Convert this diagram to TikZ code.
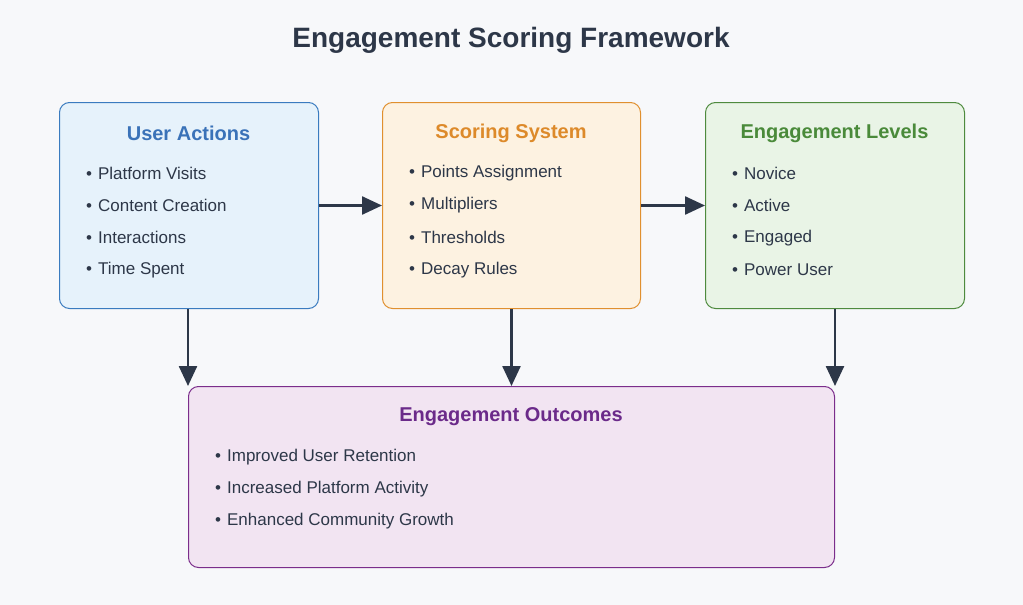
\documentclass[tikz,border=0pt]{standalone}
\usepackage{fontspec}
\setmainfont{Liberation Sans}
\usetikzlibrary{arrows.meta}
\definecolor{bg}{HTML}{F7F8FA}
\definecolor{ink}{HTML}{2D3748}
\definecolor{bfill}{HTML}{E6F2FB}\definecolor{bline}{HTML}{3A7BBF}\definecolor{btxt}{HTML}{3A72B8}
\definecolor{ofill}{HTML}{FDF2E1}\definecolor{oline}{HTML}{E0902F}\definecolor{otxt}{HTML}{DD8A2A}
\definecolor{gfill}{HTML}{E9F4E6}\definecolor{gline}{HTML}{4E8A3E}\definecolor{gtxt}{HTML}{4A8A3A}
\definecolor{pfill}{HTML}{F2E4F2}\definecolor{pline}{HTML}{7B2D8B}\definecolor{ptxt}{HTML}{6B2A8A}
\tikzset{
 panel/.style={draw, rounded corners=10pt, line width=1pt, inner sep=0pt, anchor=north west},
 head/.style={font=\fontsize{20}{24}\selectfont\bfseries},
 item/.style={font=\fontsize{17}{20}\selectfont, text=ink, anchor=west, inner sep=0pt},
 conn/.style={draw=ink, line width=2.5pt, -{Triangle[length=20pt,width=18pt]}},
}
\begin{document}
\begin{tikzpicture}[x=1pt,y=-1pt]
\fill[bg] (0,0) rectangle (1023,605);
\useasboundingbox (0,0) rectangle (1023,605);
\node[font=\fontsize{28}{32}\selectfont\bfseries, text=ink] (title) at (511,40) {Engagement Scoring Framework};
\node[panel, fill=bfill, draw=bline, minimum width=259pt, minimum height=206pt] (ua) at (59,102) {};
\node[panel, fill=ofill, draw=oline, minimum width=258pt, minimum height=206pt] (ss) at (382,102) {};
\node[panel, fill=gfill, draw=gline, minimum width=259pt, minimum height=206pt] (el) at (705,102) {};
\node[panel, fill=pfill, draw=pline, minimum width=646pt, minimum height=181pt] (eo) at (188,386) {};
\node[head, text=btxt] (uah) at (188.5,133) {User Actions};
\node[head, text=otxt] (ssh) at (511,133) {Scoring System};
\node[head, text=gtxt] (elh) at (834.5,133) {Engagement Levels};
\node[head, text=ptxt] (eoh) at (511,417) {Engagement Outcomes};
\foreach \t [count=\i] in {Platform Visits,Content Creation,Interactions,Time Spent}
  \node[item] (ua\i) at (86,{173+(\i-1)*32.4}) {•\hspace{6pt}\t};
\foreach \t [count=\i] in {Points Assignment,Multipliers,Thresholds,Decay Rules}
  \node[item] (ss\i) at (409,{173+(\i-1)*32.4}) {•\hspace{6pt}\t};
\foreach \t [count=\i] in {Novice,Active,Engaged,Power User}
  \node[item] (el\i) at (732,{173+(\i-1)*32.4}) {•\hspace{6pt}\t};
\foreach \t [count=\i] in {Improved User Retention,Increased Platform Activity,Enhanced Community Growth}
  \node[item] (eo\i) at (215,{457+(\i-1)*32}) {•\hspace{6pt}\t};
\draw[conn] (ua.east) -- (ss.west);
\draw[conn] (ss.east) -- (el.west);
\draw[conn] (ua.south -| eo.north west) -- (eo.north west);
\draw[conn] (ss.south) -- (eo.north);
\draw[conn] (el.south -| eo.north east) -- (eo.north east);
\end{tikzpicture}
\end{document}
